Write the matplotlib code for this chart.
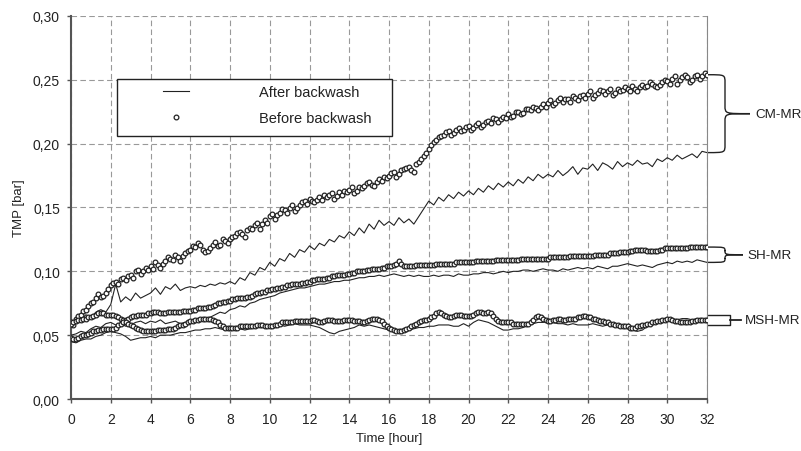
import numpy as np
import matplotlib
matplotlib.use("Agg")
import matplotlib.pyplot as plt
from matplotlib.path import Path
from matplotlib.patches import PathPatch, Rectangle
from matplotlib.ticker import FuncFormatter, MultipleLocator
import matplotlib.transforms as mtransforms

plt.rcParams['font.family'] = ['Liberation Sans', 'DejaVu Sans']

# --- data (TMP in bar) ---
# after backwash: read every 0.25 h, before backwash: every 0.125 h
time_after = np.arange(0, 32.01, 0.25)
time_before = np.arange(0, 32.01, 0.125)

cm_before = [
    0.060, 0.058, 0.063, 0.065, 0.066, 0.069, 0.070, 0.073, 0.075, 0.076, 0.079, 0.082, 0.080, 0.081, 0.083, 0.086,
    0.089, 0.091, 0.092, 0.090, 0.094, 0.095, 0.093, 0.096, 0.097, 0.095, 0.100, 0.101, 0.098, 0.100, 0.103, 0.101,
    0.104, 0.102, 0.107, 0.105, 0.103, 0.106, 0.108, 0.111, 0.110, 0.109, 0.113, 0.111, 0.108, 0.112, 0.114, 0.116,
    0.117, 0.120, 0.119, 0.122, 0.121, 0.117, 0.115, 0.116, 0.118, 0.121, 0.123, 0.120, 0.121, 0.125, 0.124, 0.122,
    0.125, 0.127, 0.128, 0.130, 0.131, 0.129, 0.127, 0.132, 0.134, 0.133, 0.136, 0.138, 0.133, 0.137, 0.140, 0.138,
    0.143, 0.145, 0.141, 0.144, 0.146, 0.149, 0.148, 0.146, 0.150, 0.152, 0.147, 0.150, 0.152, 0.154, 0.155, 0.153,
    0.157, 0.155, 0.154, 0.156, 0.158, 0.156, 0.160, 0.158, 0.160, 0.161, 0.157, 0.159, 0.162, 0.160, 0.163, 0.162,
    0.164, 0.166, 0.161, 0.163, 0.166, 0.165, 0.167, 0.169, 0.170, 0.168, 0.167, 0.170, 0.172, 0.171, 0.174, 0.173,
    0.175, 0.177, 0.178, 0.174, 0.176, 0.179, 0.180, 0.181, 0.182, 0.179, 0.178, 0.184, 0.186, 0.188, 0.190, 0.193,
    0.196, 0.199, 0.201, 0.203, 0.205, 0.206, 0.207, 0.209, 0.210, 0.207, 0.208, 0.211, 0.212, 0.210, 0.211, 0.213,
    0.214, 0.211, 0.212, 0.215, 0.216, 0.213, 0.215, 0.217, 0.218, 0.216, 0.220, 0.219, 0.217, 0.219, 0.221, 0.220,
    0.223, 0.221, 0.222, 0.225, 0.225, 0.223, 0.224, 0.227, 0.227, 0.226, 0.229, 0.228, 0.226, 0.229, 0.231, 0.229,
    0.232, 0.234, 0.230, 0.232, 0.234, 0.236, 0.233, 0.235, 0.235, 0.233, 0.237, 0.236, 0.234, 0.237, 0.238, 0.236,
    0.239, 0.241, 0.236, 0.238, 0.240, 0.242, 0.241, 0.239, 0.241, 0.243, 0.238, 0.240, 0.243, 0.241, 0.242, 0.244,
    0.243, 0.241, 0.245, 0.243, 0.241, 0.244, 0.246, 0.244, 0.245, 0.248, 0.247, 0.245, 0.244, 0.246, 0.248, 0.250,
    0.249, 0.247, 0.251, 0.253, 0.247, 0.250, 0.252, 0.254, 0.252, 0.248, 0.250, 0.253, 0.254, 0.251, 0.253, 0.255,
    0.254]

cm_after = [
    0.057, 0.060, 0.062, 0.066, 0.064, 0.068, 0.070, 0.068,
    0.074, 0.090, 0.076, 0.080, 0.077, 0.083, 0.079, 0.081,
    0.083, 0.087, 0.082, 0.088, 0.086, 0.090, 0.085, 0.087,
    0.088, 0.087, 0.089, 0.088, 0.090, 0.089, 0.091, 0.090,
    0.092, 0.090, 0.095, 0.093, 0.099, 0.097, 0.103, 0.101,
    0.107, 0.104, 0.110, 0.108, 0.114, 0.111, 0.117, 0.115,
    0.120, 0.117, 0.122, 0.120, 0.125, 0.123, 0.128, 0.126,
    0.131, 0.128, 0.134, 0.130, 0.137, 0.133, 0.140, 0.136,
    0.139, 0.136, 0.142, 0.138, 0.141, 0.137, 0.143, 0.149,
    0.155, 0.152, 0.158, 0.155, 0.160, 0.157, 0.162, 0.159,
    0.163, 0.160, 0.165, 0.162, 0.167, 0.164, 0.169, 0.166,
    0.170, 0.167, 0.172, 0.169, 0.174, 0.171, 0.176, 0.173,
    0.176, 0.174, 0.179, 0.175, 0.178, 0.182, 0.176, 0.181,
    0.180, 0.184, 0.179, 0.185, 0.183, 0.180, 0.186, 0.182,
    0.185, 0.183, 0.187, 0.184, 0.185, 0.182, 0.188, 0.186,
    0.189, 0.187, 0.191, 0.188, 0.190, 0.192, 0.189, 0.194,
    0.193]

sh_before = [
    0.059, 0.060, 0.061, 0.062, 0.062, 0.063, 0.063, 0.064, 0.064, 0.065, 0.066, 0.067, 0.067, 0.067, 0.066, 0.066,
    0.066, 0.066, 0.065, 0.064, 0.063, 0.062, 0.062, 0.063, 0.064, 0.065, 0.065, 0.066, 0.066, 0.066, 0.066, 0.067,
    0.067, 0.068, 0.068, 0.068, 0.067, 0.067, 0.067, 0.068, 0.068, 0.068, 0.068, 0.068, 0.068, 0.069, 0.069, 0.069,
    0.069, 0.070, 0.070, 0.071, 0.071, 0.071, 0.071, 0.072, 0.072, 0.073, 0.074, 0.075, 0.075, 0.076, 0.076, 0.077,
    0.077, 0.078, 0.078, 0.079, 0.079, 0.079, 0.079, 0.080, 0.080, 0.081, 0.082, 0.083, 0.083, 0.084, 0.084, 0.085,
    0.085, 0.086, 0.086, 0.087, 0.087, 0.088, 0.088, 0.089, 0.089, 0.090, 0.090, 0.090, 0.090, 0.091, 0.091, 0.092,
    0.092, 0.093, 0.093, 0.094, 0.094, 0.094, 0.094, 0.095, 0.095, 0.096, 0.096, 0.097, 0.097, 0.097, 0.097, 0.098,
    0.098, 0.099, 0.099, 0.100, 0.100, 0.100, 0.100, 0.101, 0.101, 0.102, 0.102, 0.102, 0.102, 0.103, 0.103, 0.104,
    0.104, 0.104, 0.105, 0.106, 0.108, 0.106, 0.104, 0.104, 0.104, 0.104, 0.104, 0.105, 0.105, 0.105, 0.105, 0.105,
    0.105, 0.105, 0.105, 0.106, 0.106, 0.106, 0.106, 0.106, 0.106, 0.106, 0.106, 0.107, 0.107, 0.107, 0.107, 0.107,
    0.107, 0.107, 0.107, 0.108, 0.108, 0.108, 0.108, 0.108, 0.108, 0.108, 0.108, 0.109, 0.109, 0.109, 0.109, 0.109,
    0.109, 0.109, 0.109, 0.109, 0.109, 0.110, 0.110, 0.110, 0.110, 0.110, 0.110, 0.110, 0.110, 0.110, 0.110, 0.110,
    0.110, 0.111, 0.111, 0.111, 0.111, 0.111, 0.111, 0.111, 0.111, 0.112, 0.112, 0.112, 0.112, 0.112, 0.112, 0.112,
    0.112, 0.112, 0.112, 0.113, 0.113, 0.113, 0.113, 0.113, 0.113, 0.114, 0.114, 0.114, 0.114, 0.115, 0.115, 0.115,
    0.115, 0.116, 0.116, 0.117, 0.117, 0.117, 0.117, 0.117, 0.116, 0.116, 0.116, 0.116, 0.116, 0.117, 0.117, 0.118,
    0.118, 0.118, 0.118, 0.118, 0.118, 0.118, 0.118, 0.118, 0.118, 0.119, 0.119, 0.119, 0.119, 0.119, 0.119, 0.119,
    0.119]

sh_after = [
    0.050, 0.051, 0.053, 0.052, 0.055, 0.057, 0.056, 0.059,
    0.060, 0.058, 0.059, 0.057, 0.058, 0.060, 0.061, 0.059,
    0.061, 0.060, 0.062, 0.059, 0.060, 0.061, 0.059, 0.060,
    0.060, 0.062, 0.061, 0.063, 0.064, 0.066, 0.068, 0.067,
    0.070, 0.071, 0.073, 0.072, 0.075, 0.076, 0.078, 0.079,
    0.080, 0.081, 0.083, 0.084, 0.085, 0.086, 0.087, 0.087,
    0.088, 0.089, 0.090, 0.090, 0.091, 0.092, 0.092, 0.093,
    0.093, 0.094, 0.095, 0.095, 0.096, 0.096, 0.097, 0.096,
    0.097, 0.098, 0.097, 0.096, 0.097, 0.096, 0.097, 0.096,
    0.096, 0.097, 0.096, 0.097, 0.097, 0.096, 0.098, 0.097,
    0.097, 0.098, 0.098, 0.099, 0.099, 0.098, 0.099, 0.100,
    0.099, 0.100, 0.100, 0.101, 0.101, 0.100, 0.101, 0.102,
    0.101, 0.101, 0.100, 0.102, 0.101, 0.102, 0.103, 0.102,
    0.103, 0.102, 0.104, 0.103, 0.102, 0.104, 0.104, 0.105,
    0.106, 0.105, 0.104, 0.105, 0.104, 0.103, 0.105, 0.106,
    0.107, 0.106, 0.108, 0.107, 0.108, 0.107, 0.109, 0.108,
    0.107]

msh_before = [
    0.048, 0.047, 0.047, 0.048, 0.049, 0.050, 0.050, 0.051, 0.052, 0.053, 0.053, 0.054, 0.054, 0.055, 0.055, 0.055,
    0.055, 0.055, 0.056, 0.058, 0.059, 0.060, 0.060, 0.059, 0.058, 0.057, 0.056, 0.055, 0.054, 0.053, 0.053, 0.053,
    0.053, 0.053, 0.053, 0.054, 0.054, 0.054, 0.054, 0.055, 0.055, 0.055, 0.056, 0.057, 0.058, 0.058, 0.059, 0.060,
    0.061, 0.061, 0.062, 0.062, 0.063, 0.063, 0.063, 0.063, 0.063, 0.062, 0.061, 0.060, 0.058, 0.057, 0.056, 0.056,
    0.056, 0.056, 0.056, 0.056, 0.057, 0.057, 0.057, 0.057, 0.057, 0.057, 0.057, 0.058, 0.058, 0.058, 0.057, 0.057,
    0.057, 0.057, 0.058, 0.058, 0.059, 0.060, 0.060, 0.060, 0.060, 0.060, 0.061, 0.061, 0.061, 0.061, 0.061, 0.061,
    0.061, 0.062, 0.062, 0.061, 0.060, 0.060, 0.061, 0.062, 0.062, 0.062, 0.061, 0.061, 0.061, 0.061, 0.062, 0.062,
    0.062, 0.062, 0.061, 0.061, 0.061, 0.060, 0.060, 0.061, 0.062, 0.063, 0.063, 0.063, 0.062, 0.061, 0.059, 0.057,
    0.056, 0.055, 0.054, 0.053, 0.053, 0.053, 0.054, 0.055, 0.056, 0.057, 0.058, 0.059, 0.060, 0.061, 0.062, 0.062,
    0.063, 0.064, 0.065, 0.067, 0.068, 0.067, 0.066, 0.065, 0.064, 0.064, 0.065, 0.066, 0.066, 0.066, 0.065, 0.065,
    0.065, 0.065, 0.066, 0.067, 0.068, 0.068, 0.067, 0.067, 0.068, 0.067, 0.065, 0.063, 0.061, 0.060, 0.060, 0.060,
    0.060, 0.060, 0.059, 0.059, 0.059, 0.059, 0.059, 0.059, 0.059, 0.060, 0.062, 0.064, 0.065, 0.064, 0.063, 0.062,
    0.061, 0.061, 0.062, 0.062, 0.063, 0.063, 0.062, 0.062, 0.063, 0.063, 0.063, 0.063, 0.064, 0.064, 0.065, 0.065,
    0.064, 0.064, 0.063, 0.063, 0.062, 0.061, 0.061, 0.060, 0.060, 0.059, 0.059, 0.058, 0.058, 0.057, 0.057, 0.057,
    0.057, 0.056, 0.056, 0.056, 0.057, 0.057, 0.058, 0.058, 0.059, 0.059, 0.060, 0.060, 0.061, 0.061, 0.062, 0.062,
    0.063, 0.063, 0.062, 0.061, 0.061, 0.060, 0.060, 0.060, 0.060, 0.060, 0.061, 0.061, 0.062, 0.062, 0.062, 0.062,
    0.062]

msh_after = [
    0.045, 0.044, 0.046, 0.047, 0.047, 0.049, 0.050, 0.052,
    0.053, 0.052, 0.051, 0.049, 0.046, 0.047, 0.048, 0.048,
    0.049, 0.048, 0.050, 0.050, 0.050, 0.051, 0.052, 0.052,
    0.053, 0.054, 0.054, 0.055, 0.055, 0.056, 0.055, 0.054,
    0.054, 0.055, 0.055, 0.054, 0.055, 0.056, 0.056, 0.057,
    0.056, 0.057, 0.058, 0.057, 0.058, 0.059, 0.058, 0.058,
    0.058, 0.057, 0.056, 0.054, 0.052, 0.051, 0.053, 0.054,
    0.055, 0.056, 0.058, 0.057, 0.058, 0.057, 0.056, 0.055,
    0.054, 0.053, 0.054, 0.054, 0.054, 0.055, 0.056, 0.056,
    0.057, 0.057, 0.058, 0.058, 0.058, 0.057, 0.057, 0.059,
    0.057, 0.060, 0.062, 0.061, 0.060, 0.058, 0.056, 0.054,
    0.054, 0.055, 0.055, 0.056, 0.058, 0.059, 0.060, 0.060,
    0.061, 0.060, 0.059, 0.059, 0.058, 0.059, 0.058, 0.058,
    0.058, 0.059, 0.058, 0.057, 0.058, 0.057, 0.057, 0.056,
    0.055, 0.054, 0.053, 0.054, 0.057, 0.058, 0.059, 0.060,
    0.062, 0.061, 0.062, 0.063, 0.063, 0.062, 0.063, 0.062,
    0.062]

groups = ["CM-MR", "SH-MR", "MSH-MR"]

# --- figure ---
W, H = 801, 452
fig = plt.figure(figsize=(W / 100, H / 100), dpi=100)
ax_l, ax_r, ax_t, ax_b = 71, 707, 17, 400
ax = fig.add_axes([ax_l / W, 1 - ax_b / H, (ax_r - ax_l) / W, (ax_b - ax_t) / H])
ax_wpx = ax_r - ax_l
ax_hpx = ax_b - ax_t

line_kw = dict(color='#222222', lw=0.8, zorder=3)
mark_kw = dict(ls='none', marker='o', ms=3.4, mfc='white', mec='#222222', mew=0.9, zorder=4)

for after in [cm_after, sh_after, msh_after]:
    ax.plot(time_after, after, **line_kw)
for before in [cm_before, sh_before, msh_before]:
    ax.plot(time_before, before, **mark_kw)

ax.set_xlim(0, 32)
ax.set_ylim(0, 0.30)
ax.xaxis.set_major_locator(MultipleLocator(2))
ax.yaxis.set_major_locator(MultipleLocator(0.05))
ax.yaxis.set_major_formatter(FuncFormatter(lambda v, p: f"{v:.2f}".replace('.', ',')))

ax.grid(True, color='#999999', ls=(0, (5, 3)), lw=0.8)
ax.set_axisbelow(True)
ax.spines['top'].set_visible(False)
ax.spines['right'].set_color('#888888')
ax.spines['right'].set_linewidth(0.8)
for s in ['left', 'bottom']:
    ax.spines[s].set_color('#555555')
    ax.spines[s].set_linewidth(1.5)
ax.tick_params(direction='out', length=3, width=1, color='#555555', labelsize=10, labelcolor='#222222')
ax.tick_params(axis='x', pad=6)
ax.tick_params(axis='y', pad=5)

ax.set_xlabel("Time [hour]", fontsize=9.5, color='#222222')
ax.set_ylabel("TMP [bar]", fontsize=9.5, color='#222222')
ax.xaxis.set_label_coords(0.5, -(433 - ax_b) / ax_hpx)
ax.yaxis.set_label_coords(-(ax_l - 25) / ax_wpx, 0.5)

# --- legend ---
h_after, = ax.plot([], [], **line_kw)
h_before, = ax.plot([], [], **mark_kw)
leg = fig.legend([h_after, h_before], ["After backwash", "Before backwash"],
                 loc='upper left', bbox_to_anchor=(163 / W, 1 - 86 / H),
                 frameon=False, fontsize=10.5, borderpad=0, borderaxespad=0,
                 handlelength=1.8, handletextpad=4.8, labelspacing=0.85, numpoints=1)
for t in leg.get_texts():
    t.set_color('#222222')
fig.patches.append(Rectangle((117 / W, 1 - 137 / H), (392 - 117) / W, (137 - 80) / H,
                             transform=fig.transFigure, fill=True, facecolor='white',
                             edgecolor='#222222', lw=1.0, zorder=5))
leg.set_zorder(6)

# --- braces on the right ---
blend = mtransforms.blended_transform_factory(ax.transAxes, ax.transData)
px_x = 1.0 / ax_wpx
px_y = 0.30 / ax_hpx


def curly(y_top, y_bot, arm, tip, r=6):
    ym = (y_top + y_bot) / 2
    xa, xt = 1 + arm * px_x, 1 + tip * px_x
    ry = r * px_y
    verts = [(1 + px_x, y_top), (xa, y_top), (xa, y_top), (xa, y_top - ry),
             (xa, ym + ry), (xa, ym), (xa, ym), (xt, ym),
             (xa, ym), (xa, ym), (xa, ym - ry),
             (xa, y_bot + ry), (xa, y_bot), (xa, y_bot), (1 + px_x, y_bot)]
    codes = [Path.MOVETO, Path.CURVE4, Path.CURVE4, Path.CURVE4,
             Path.LINETO, Path.CURVE4, Path.CURVE4, Path.CURVE4,
             Path.CURVE4, Path.CURVE4, Path.CURVE4,
             Path.LINETO, Path.CURVE4, Path.CURVE4, Path.CURVE4]
    ax.add_patch(PathPatch(Path(verts, codes), fill=False, lw=1.0, ec='#222222',
                           transform=blend, clip_on=False))
    return ym, xt


ym, xt = curly(cm_before[-1], cm_after[-1], 18, 43, r=8)
ax.text(xt + 5 * px_x, ym, groups[0], transform=blend, va='center', ha='left',
        fontsize=9.7, color='#222222')

ym, xt = curly(sh_before[-1], sh_after[-1], 18, 36, r=4)
ax.text(xt + 4 * px_x, ym, groups[1], transform=blend, va='center', ha='left',
        fontsize=9.7, color='#222222')

# small square bracket for MSH-MR
yc = (msh_before[-1] + msh_after[-1]) / 2
y1, y2 = yc + 5 * px_y, yc - 5 * px_y
xb = 1 + 23 * px_x
ax.plot([1 + px_x, xb, xb, 1 + px_x], [y1, y1, y2, y2], color='#222222', lw=1.0,
        transform=blend, clip_on=False)
ax.plot([xb, 1 + 34 * px_x], [yc, yc], color='#222222', lw=1.3, transform=blend, clip_on=False)
ax.text(1 + 38 * px_x, yc, groups[2], transform=blend, va='center', ha='left',
        fontsize=9.7, color='#222222')

fig.savefig("out.png", dpi=100)
